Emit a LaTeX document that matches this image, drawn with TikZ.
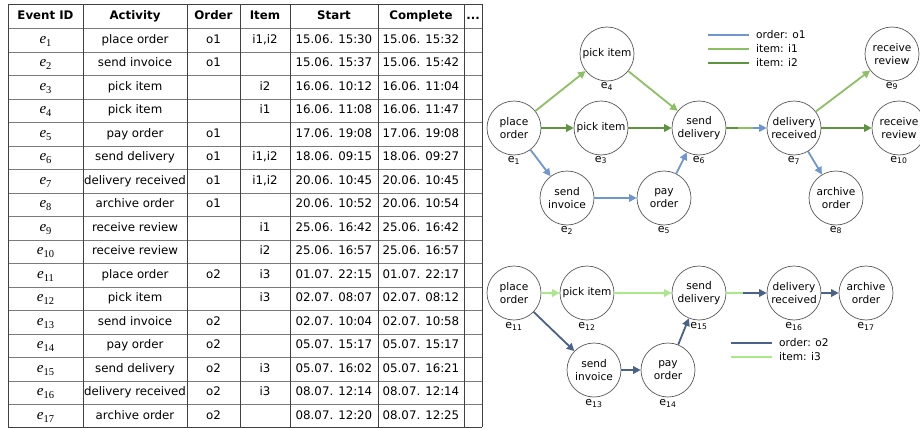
\documentclass[tikz,border=0pt]{standalone}
\usepackage{fontspec}
\setmainfont{DejaVu Sans}
\newfontfamily\efont{Liberation Serif}
\usetikzlibrary{arrows.meta,calc}
\definecolor{oone}{HTML}{6F96D0}
\definecolor{ione}{HTML}{8DC063}
\definecolor{itwo}{HTML}{5E9440}
\definecolor{otwo}{HTML}{4A6189}
\definecolor{ithree}{HTML}{A9E98C}
\definecolor{gridc}{HTML}{7A7A7A}
\newcommand{\evid}[1]{{\efont\fontsize{15}{16}\selectfont\itshape e}{\efont\fontsize{10.5}{12}\selectfont\raisebox{-2.8pt}{#1}}}
\begin{document}
\begin{tikzpicture}[x=1pt,y=-1pt,
  cell/.style={inner sep=0pt,text height=8.6pt,text depth=2.4pt,font=\fontsize{11.8}{14}\selectfont},
  hcell/.style={cell,font=\fontsize{11.8}{14}\selectfont\bfseries},
  ev/.style={circle,draw=black!65,line width=0.7pt,minimum size=54pt,inner sep=0pt,align=center,font=\fontsize{10.6}{13}\selectfont},
  evlab/.style={inner sep=0pt,font=\fontsize{11}{13}\selectfont},
  conn/.style={line width=1.8pt,-{Triangle[length=7.5pt,width=7.5pt]}},
  seg/.style={line width=1.8pt},
  legtxt/.style={anchor=west,inner sep=0pt,font=\fontsize{10.6}{13}\selectfont}]
\useasboundingbox (0,0) rectangle (920,428);
\fill[white] (0,0) rectangle (920,428);
% ---------- table ----------
\foreach \i in {0,...,16}
  \draw[gridc,line width=0.8pt] (8,{28.5+\i*23.5}) -- (482,{28.5+\i*23.5});
\draw[black!75,line width=0.9pt] (8,4.5) -- (482,4.5);
\draw[black!75,line width=0.9pt] (8,427) -- (482,427);
\foreach \xx in {8,83,187,240,290,378,464,482}
  \draw[black!75,line width=0.9pt] (\xx,4.5) -- (\xx,427);
\node[hcell] (h1) at (45.5,16.5) {Event ID};
\node[hcell] (h2) at (135,16.5) {Activity};
\node[hcell] (h3) at (213.5,16.5) {Order};
\node[hcell] (h4) at (265,16.5) {Item};
\node[hcell] (h5) at (334,16.5) {Start};
\node[hcell] (h6) at (421,16.5) {Complete};
\node[hcell] (h7) at (473,16.5) {...};
\foreach \i/\act/\ord/\itm/\st/\co [evaluate=\i as \yy using 28.5+(\i-0.5)*23.5] in {
  1/place order/o1/{i1,i2}/15.06. 15:30/15.06. 15:32,
  2/send invoice/o1//15.06. 15:37/15.06. 15:42,
  3/pick item//i2/16.06. 10:12/16.06. 11:04,
  4/pick item//i1/16.06. 11:08/16.06. 11:47,
  5/pay order/o1//17.06. 19:08/17.06. 19:08,
  6/send delivery/o1/{i1,i2}/18.06. 09:15/18.06. 09:27,
  7/delivery received/o1/{i1,i2}/20.06. 10:45/20.06. 10:45,
  8/archive order/o1//20.06. 10:52/20.06. 10:54,
  9/receive review//i1/25.06. 16:42/25.06. 16:42,
  10/receive review//i2/25.06. 16:57/25.06. 16:57,
  11/place order/o2/i3/01.07. 22:15/01.07. 22:17,
  12/pick item//i3/02.07. 08:07/02.07. 08:12,
  13/send invoice/o2//02.07. 10:04/02.07. 10:58,
  14/pay order/o2//05.07. 15:17/05.07. 15:17,
  15/send delivery/o2/i3/05.07. 16:02/05.07. 16:21,
  16/delivery received/o2/i3/08.07. 12:14/08.07. 12:14,
  17/archive order/o2//08.07. 12:20/08.07. 12:25}{
  \node[cell] (r\i c1) at (45.5,\yy) {\evid{\i}};
  \node[cell] (r\i c2) at (135,\yy) {\act};
  \node[cell] (r\i c3) at (213.5,\yy) {\ord};
  \node[cell] (r\i c4) at (265,\yy) {\itm};
  \node[cell] (r\i c5) at (334,\yy) {\st};
  \node[cell] (r\i c6) at (421,\yy) {\co};
}
% ---------- top graph ----------
\node[ev] (e1) at (514,128) {place\\order};
\node[ev] (e2) at (567,198) {send\\invoice};
\node[ev] (e3) at (601,128) {pick item};
\node[ev] (e4) at (607,54) {pick item};
\node[ev] (e5) at (664,198) {pay\\order};
\node[ev] (e6) at (699,128) {send\\delivery};
\node[ev] (e7) at (794,128) {delivery\\received};
\node[ev] (e8) at (836,198) {archive\\order};
\node[ev] (e9) at (892,54) {receive\\review};
\node[ev] (e10) at (899,128) {receive\\review};
\foreach \n in {1,...,10}
  \node[evlab] (l\n) at ($(e\n)+(0,32)$) {e\textsubscript{\n}};
\draw[conn,ione] (e1) -- (e4);
\draw[conn,itwo] (e1) -- (e3);
\draw[conn,oone] (e1) -- (e2);
\draw[conn,ione] (e4) -- (e6);
\draw[conn,itwo] (e3) -- (e6);
\draw[conn,oone] (e2) -- (e5);
\draw[conn,oone] (e5) -- (e6);
\coordinate (m67a) at ($(e6.east)!0.29!(e7.west)$);
\coordinate (m67b) at ($(e6.east)!0.66!(e7.west)$);
\draw[seg,itwo] (e6.east) -- (m67a);
\draw[seg,ione] (m67a) -- (m67b);
\draw[conn,oone] (m67b) -- (e7.west);
\draw[conn,ione] (e7) -- (e9);
\draw[conn,itwo] (e7) -- (e10);
\draw[conn,oone] (e7) -- (e8);
% legend top
\coordinate (la1) at (708,35); \coordinate (lb1) at (749,35);
\coordinate (la2) at (708,49); \coordinate (lb2) at (749,49);
\coordinate (la3) at (708,63); \coordinate (lb3) at (749,63);
\draw[seg,oone] (la1) -- (lb1);
\draw[seg,ione] (la2) -- (lb2);
\draw[seg,itwo] (la3) -- (lb3);
\node[legtxt] (t1) at (756,35) {order: o1};
\node[legtxt] (t2) at (756,49) {item: i1};
\node[legtxt] (t3) at (756,63) {item: i2};
% ---------- bottom graph ----------
\node[ev] (e11) at (514,293) {place\\order};
\node[ev] (e12) at (587,293) {pick item};
\node[ev] (e13) at (594,370) {send\\invoice};
\node[ev] (e14) at (668,370) {pay\\order};
\node[ev] (e15) at (699,293) {send\\delivery};
\node[ev] (e16) at (794,293) {delivery\\received};
\node[ev] (e17) at (866,293) {archive\\order};
\foreach \n in {11,...,17}
  \node[evlab] (l\n) at ($(e\n)+(0,33)$) {e\textsubscript{\n}};
\draw[conn,ithree] (e11) -- (e12);
\draw[conn,otwo] (e11) -- (e13);
\draw[conn,ithree] (e12) -- (e15);
\draw[conn,otwo] (e13) -- (e14);
\draw[conn,otwo] (e14) -- (e15);
\coordinate (m1516) at ($(e15.east)!0.41!(e16.west)$);
\draw[seg,ithree] (e15.east) -- (m1516);
\draw[conn,otwo] (m1516) -- (e16.west);
\draw[conn,otwo] (e16) -- (e17);
% legend bottom
\coordinate (la4) at (731,343); \coordinate (lb4) at (772,343);
\coordinate (la5) at (731,357); \coordinate (lb5) at (772,357);
\draw[seg,otwo] (la4) -- (lb4);
\draw[seg,ithree] (la5) -- (lb5);
\node[legtxt] (t4) at (779,343) {order: o2};
\node[legtxt] (t5) at (779,357) {item: i3};
\end{tikzpicture}
\end{document}
